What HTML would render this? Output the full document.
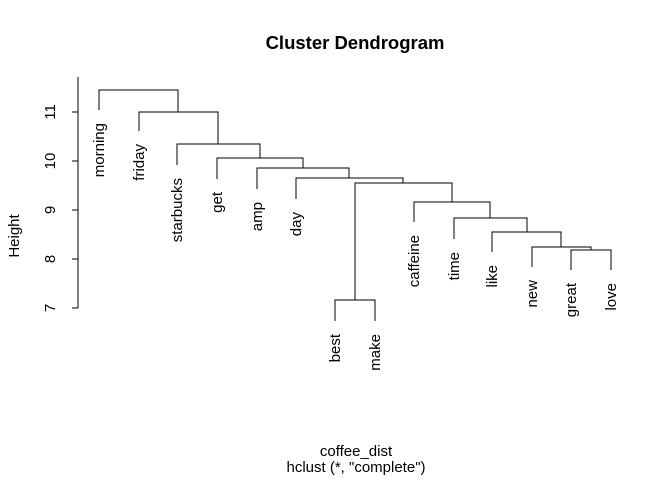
<!DOCTYPE html>
<html><head><style>html,body{margin:0;padding:0;background:#fff}</style></head><body>
<svg width="672" height="480" xmlns="http://www.w3.org/2000/svg" font-family="Liberation Sans, sans-serif">
<rect width="672" height="480" fill="#fff"/>
<text x="355" y="49" font-size="18.5" font-weight="bold" text-anchor="middle">Cluster Dendrogram</text>
<text x="356" y="456" font-size="15" text-anchor="middle">coffee_dist</text>
<text x="356" y="472" font-size="15" text-anchor="middle">hclust (*, "complete")</text>
<text transform="translate(19,236) rotate(-90)" font-size="15" text-anchor="middle">Height</text>
<g stroke="#000" stroke-width="1" fill="none">
<path d="M78 77V308M72 112H78M72 161H78M72 210H78M72 259H78M72 308H78"/>
<path d="M571 270V250H611V270"/>
<path d="M532 267V247H591V250"/>
<path d="M492 252V232H561V247"/>
<path d="M454 239V218H527V232"/>
<path d="M414 222V202H490V218"/>
<path d="M335 321V300H375V321"/>
<path d="M355 300V183H452V202"/>
<path d="M296 199V178H403V183"/>
<path d="M257 189V168H349V178"/>
<path d="M217 179V158H303V168"/>
<path d="M177 165V144H260V158"/>
<path d="M139 131V112H218V144"/>
<path d="M99 110V90H178V112"/>
</g>
<g font-size="15" text-anchor="middle">
<text transform="translate(55,112) rotate(-90)">11</text>
<text transform="translate(55,161) rotate(-90)">10</text>
<text transform="translate(55,210) rotate(-90)">9</text>
<text transform="translate(55,259) rotate(-90)">8</text>
<text transform="translate(55,308) rotate(-90)">7</text>
</g>
<g font-size="15" text-anchor="end">
<text transform="translate(104,123) rotate(-90)">morning</text>
<text transform="translate(144,144) rotate(-90)">friday</text>
<text transform="translate(182,178) rotate(-90)">starbucks</text>
<text transform="translate(222,192) rotate(-90)">get</text>
<text transform="translate(262,202) rotate(-90)">amp</text>
<text transform="translate(301,212) rotate(-90)">day</text>
<text transform="translate(340,334) rotate(-90)">best</text>
<text transform="translate(380,334) rotate(-90)">make</text>
<text transform="translate(419,235) rotate(-90)">caffeine</text>
<text transform="translate(459,252) rotate(-90)">time</text>
<text transform="translate(497,265) rotate(-90)">like</text>
<text transform="translate(537,280) rotate(-90)">new</text>
<text transform="translate(576,283) rotate(-90)">great</text>
<text transform="translate(616,283) rotate(-90)">love</text>
</g>
</svg>
</body></html>
